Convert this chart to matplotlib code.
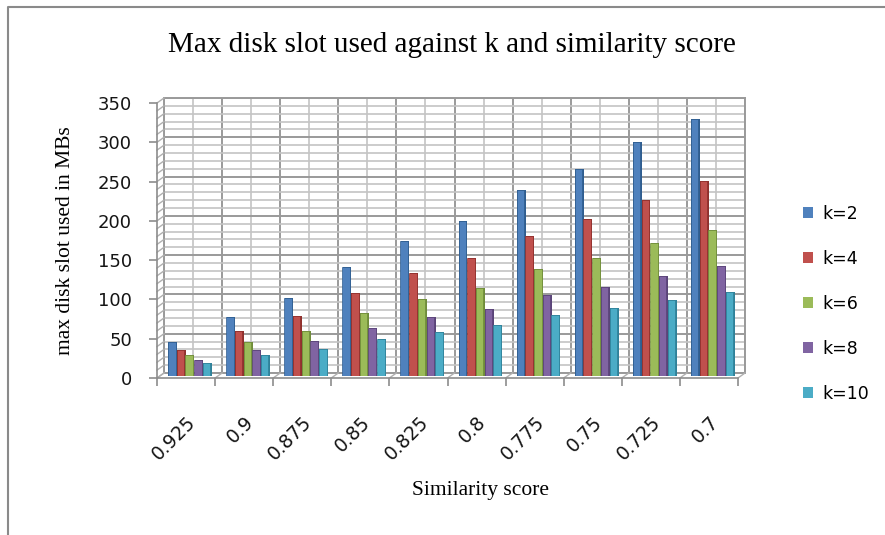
import matplotlib
matplotlib.use("Agg")
import matplotlib.pyplot as plt
import numpy as np
from matplotlib.patches import Patch

# data
scores = ["0.925", "0.9", "0.875", "0.85", "0.825", "0.8", "0.775", "0.75", "0.725", "0.7"]
k2 = [43, 75, 99, 138, 171, 197, 236, 263, 297, 327]
k4 = [33, 57, 76, 105, 130, 149, 178, 199, 223, 247]
k6 = [26, 43, 57, 80, 98, 112, 135, 149, 169, 185]
k8 = [20, 33, 44, 60, 74, 85, 102, 113, 127, 140]
k10 = [16, 26, 34, 46, 56, 64, 77, 86, 96, 106]
series = [k2, k4, k6, k8, k10]
labels = ["k=2", "k=4", "k=6", "k=8", "k=10"]
colors = ["#4F81BD", "#C0504D", "#9BBB59", "#8064A2", "#4BACC6"]
edges = ["#2f5d8f", "#8f302d", "#6f8c3a", "#5a4478", "#2f8199"]

W, H = 885, 535
fig = plt.figure(figsize=(W / 100, H / 100), dpi=100)


def rect(left, top, right, bottom):
    return [left / W, 1 - bottom / H, (right - left) / W, (bottom - top) / H]


n = len(scores)
ymax = 350

# back wall with the grid
axb = fig.add_axes(rect(164, 98, 745, 373), zorder=0)
axb.set_xlim(0, n)
axb.set_ylim(0, ymax)
axb.set_xticks(np.arange(0, n + 1))
axb.set_xticks(np.arange(n) + 0.5, minor=True)
axb.set_yticks(np.arange(0, ymax + 1, 50))
axb.set_yticks(np.arange(0, ymax + 1, 10), minor=True)
axb.grid(True, which="major", color="#9a9a9a", lw=1.4)
axb.grid(True, which="minor", color="#c4c4c4", lw=1.2)
axb.tick_params(which="both", length=0, labelleft=False, labelbottom=False)
for s in axb.spines.values():
    s.set_color("#9a9a9a")
    s.set_linewidth(1.4)
axb.set_axisbelow(True)

# front axes: ticks, labels, side wall and floor
axf = fig.add_axes(rect(157, 103, 738, 378), zorder=1)
axf.patch.set_visible(False)
axf.set_xlim(0, n)
axf.set_ylim(0, ymax)
for side in ["top", "right"]:
    axf.spines[side].set_visible(False)
for side in ["left", "bottom"]:
    axf.spines[side].set_color("#8c8c8c")
    axf.spines[side].set_linewidth(1.2)
axf.set_yticks(np.arange(0, ymax + 1, 50))
axf.set_xticks(np.arange(n) + 0.5)
axf.set_xticklabels(scores, rotation=45, ha="right", rotation_mode="anchor")
axf.set_xticks(np.arange(0, n + 1), minor=True)
axf.tick_params(axis="x", which="major", length=0, pad=25)
axf.tick_params(axis="x", which="minor", length=6, width=1.2, color="#8c8c8c")
axf.tick_params(axis="y", length=6, width=1.2, color="#8c8c8c", pad=12)
for lab in axf.get_yticklabels():
    lab.set_fontsize(13)
    lab.set_color("#151515")
for lab in axf.get_xticklabels():
    lab.set_fontsize(13.5)
    lab.set_color("#151515")

dx = 7 * n / 581.0
dy = 5 * ymax / 275.0
for v in np.arange(0, ymax + 1, 10):
    axf.plot([0, dx], [v, v + dy], color="#b0b0b0", lw=1.0, clip_on=False)
for i in range(n + 1):
    axf.plot([i, i + dx], [0, dy], color="#b0b0b0", lw=1.0, clip_on=False)

# bars in the middle of the depth
axm = fig.add_axes(rect(160.5, 100.5, 741.5, 375.5), zorder=2)
axm.patch.set_visible(False)
axm.set_xlim(0, n)
axm.set_ylim(0, ymax)
axm.axis("off")
w = 0.15
x = np.arange(n) + 0.5
for j, vals in enumerate(series):
    xs = x + (j - 2) * w
    axm.bar(xs + 0.01, vals, width=w * 0.98, color=edges[j], zorder=2 + j)
    axm.bar(xs - 0.006, vals, width=w * 0.86, color=colors[j], edgecolor=edges[j],
            linewidth=0.5, zorder=2.5 + j)

handles = [Patch(facecolor=c, edgecolor="none") for c in colors]
fig.legend(handles, labels, loc="upper left", bbox_to_anchor=(796 / W, 1 - 198 / H),
           frameon=False, fontsize=12.5, handlelength=0.6, handleheight=0.6,
           handletextpad=0.5, labelspacing=1.55, borderaxespad=0)

fig.text(452 / W, 1 - 45 / H, "Max disk slot used against k and similarity score",
         ha="center", va="center", fontsize=21, family="Liberation Serif")
fig.text(65 / W, 1 - 241 / H, "max disk slot used in MBs", rotation=90,
         ha="center", va="center", fontsize=15.5, family="Liberation Serif")
fig.text(480 / W, 1 - 490 / H, "Similarity score", ha="center", va="center",
         fontsize=15.5, family="Liberation Serif")

# chart area border (left and top edges visible)
fig.add_artist(plt.Line2D([8 / W, 8 / W, 1], [0, 1 - 7 / H, 1 - 7 / H],
                          color="#8a8a8a", lw=1.5))

fig.savefig("out.png", dpi=100)
